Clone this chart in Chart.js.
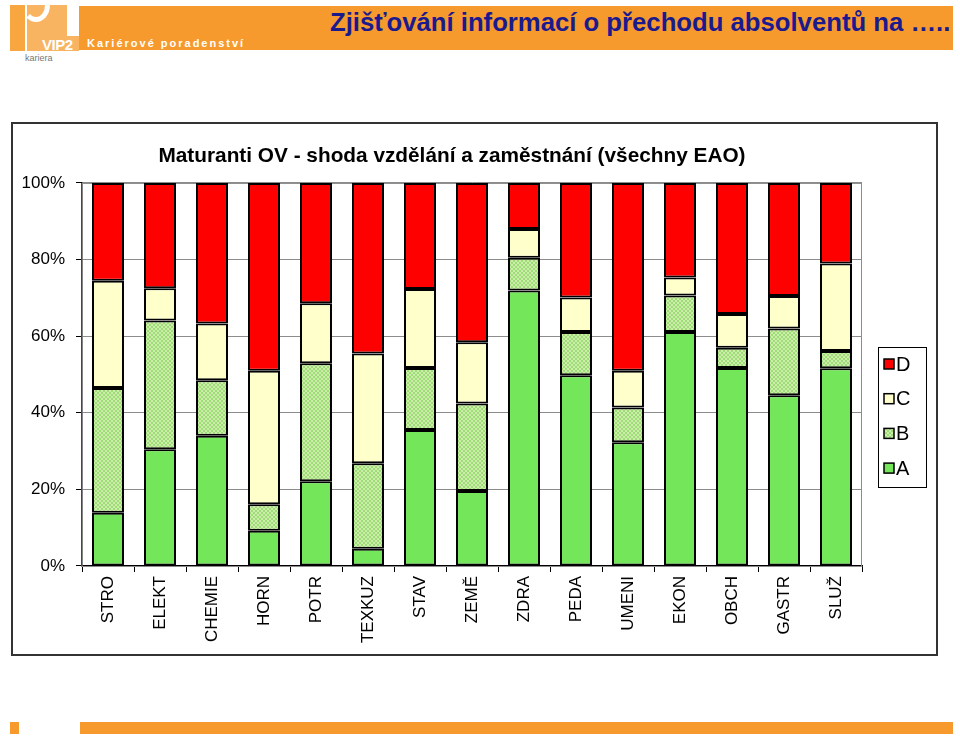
<!DOCTYPE html>
<html>
<head>
<meta charset="utf-8">
<script src="https://cdn.jsdelivr.net/npm/chart.js@4"></script>
<style>
  body { margin: 0; width: 960px; height: 739px; background: #fff; position: relative; overflow: hidden; font-family: "Liberation Sans", Arial, sans-serif; }
  .abs { position: absolute; }
  #logoStrip { left: 10px; top: 5px; width: 15px; height: 46px; background: #f7a640; }
  #logoBlock { left: 27px; top: 5px; width: 40px; height: 46px; background: #f9b462; }
  #logoBlock2 { left: 67px; top: 36px; width: 12px; height: 15px; background: #f9b462; }
  #logoArc { left: 22px; top: -12px; width: 18px; height: 24px; border: 5px solid #fff; border-radius: 50%; border-left-color: transparent; border-top-color: transparent; }
  #vip { left: 42px; top: 36px; color: #fff; font-weight: bold; font-size: 15px; letter-spacing: -0.5px; }
  #kariera { left: 25px; top: 53px; color: #777; font-size: 9px; }
  #headBar { left: 79px; top: 6px; width: 874px; height: 44px; background: #f79a2e; }
  #kp { left: 87px; top: 37px; color: #fff; font-size: 11px; font-weight: bold; letter-spacing: 2px; }
  #mainTitle { left: 330px; top: 8px; color: #1a1a8e; font-weight: bold; font-size: 25.7px; white-space: nowrap; }
  #chartBox { left: 11px; top: 122px; width: 923px; height: 530px; border: 2px solid #333; }
  #footSq { left: 10px; top: 722px; width: 9px; height: 12px; background: #f79a2e; }
  #footBar { left: 80px; top: 722px; width: 873px; height: 12px; background: #f79a2e; }
</style>
</head>
<body>
<div id="logoStrip" class="abs"></div>
<div id="logoBlock" class="abs"></div>
<div id="logoBlock2" class="abs"></div>
<div id="logoArc" class="abs"></div>
<div id="headBar" class="abs"></div>
<div id="vip" class="abs">VIP2</div>
<div id="kariera" class="abs">kariera</div>
<div id="kp" class="abs">Kariérové poradenství</div>
<div id="mainTitle" class="abs">Zjišťování informací o přechodu absolventů na …..</div>
<div id="chartBox" class="abs"><canvas id="chart" width="923" height="530"></canvas></div>
<div id="footSq" class="abs"></div>
<div id="footBar" class="abs"></div>

<script>
// data (percent shares of each stack)
const categories = ["STRO", "ELEKT", "CHEMIE", "HORN", "POTR", "TEXKUZ", "STAV", "ZEMĚ", "ZDRA", "PEDA", "UMENI", "EKON", "OBCH", "GASTR", "SLUŽ"]
const seriesA = [13.9, 30.5, 34.0, 9.2, 22.1, 4.5, 35.5, 19.6, 71.9, 49.8, 32.3, 61.1, 51.7, 44.6, 51.6]
const seriesB = [32.6, 33.6, 14.5, 6.9, 30.8, 22.3, 16.2, 22.8, 8.6, 11.3, 9.1, 9.5, 5.3, 17.4, 4.5]
const seriesC = [28.0, 8.4, 14.8, 34.9, 15.7, 28.7, 20.6, 16.0, 7.5, 9.0, 9.6, 4.7, 8.8, 8.5, 22.9]
const seriesD = [25.5, 27.5, 36.7, 49.0, 31.4, 44.5, 27.7, 41.6, 12.0, 29.9, 49.0, 24.7, 34.2, 29.5, 21.0]
const yTicks = [0, 20, 40, 60, 80, 100]

// checkered fill for B
const pc = document.createElement("canvas")
pc.width = 4
pc.height = 4
const pctx = pc.getContext("2d")
pctx.fillStyle = "#cdeeab"
pctx.fillRect(0, 0, 4, 4)
pctx.fillStyle = "#9edc78"
pctx.fillRect(0, 0, 2, 2)
pctx.fillRect(2, 2, 2, 2)
const hatch = pctx.createPattern(pc, "repeat")

const FONT = "'Liberation Sans', Arial, sans-serif"

// grey frame round plot area
const plotFrame = {
    id: "plotFrame",
    beforeDatasetsDraw(chart) {
        const a = chart.chartArea
        const ctx = chart.ctx
        ctx.save()
        ctx.strokeStyle = "#8c8c8c"
        ctx.lineWidth = 1
        ctx.strokeRect(a.left, a.top + 0.5, a.right - a.left - 0.5, a.bottom - a.top)
        ctx.restore()
    }
}

// boxed legend on the right, top item = last dataset
const boxLegend = {
    id: "boxLegend",
    afterDraw(chart) {
        const ctx = chart.ctx
        const x = 865, y = 223, w = 48, h = 140
        ctx.save()
        ctx.strokeStyle = "#000"
        ctx.lineWidth = 1
        ctx.strokeRect(x + 0.5, y + 0.5, w, h)
        const ds = chart.data.datasets.slice().reverse()
        ds.forEach((d, i) => {
            const cy = y + 17 + i * 34.7
            ctx.fillStyle = d.backgroundColor
            ctx.fillRect(x + 6, cy - 5, 10, 10)
            ctx.strokeStyle = "#000"
            ctx.lineWidth = 1.5
            ctx.strokeRect(x + 6, cy - 5, 10, 10)
            ctx.fillStyle = "#000"
            ctx.font = "20px " + FONT
            ctx.textBaseline = "middle"
            ctx.fillText(d.label, x + 18, cy + 1)
        })
        ctx.restore()
    }
}

new Chart(document.getElementById("chart"), {
    type: "bar",
    data: {
        labels: categories,
        datasets: [
            { label: "A", data: seriesA, backgroundColor: "#74e65a" },
            { label: "B", data: seriesB, backgroundColor: hatch },
            { label: "C", data: seriesC, backgroundColor: "#ffffcc" },
            { label: "D", data: seriesD, backgroundColor: "#ff0000" },
        ],
    },
    options: {
        responsive: false,
        animation: false,
        events: [],
        layout: { padding: { left: 0, right: 45, top: 0, bottom: 0 } },
        datasets: {
            bar: {
                borderColor: "#000",
                borderWidth: 2,
                borderSkipped: false,
                barPercentage: 0.615,
                categoryPercentage: 1,
            },
        },
        plugins: {
            legend: { display: false },
            tooltip: { enabled: false },
            title: {
                display: true,
                text: "Maturanti OV - shoda vzdělání a zaměstnání (všechny EAO)",
                color: "#000",
                font: { family: FONT, size: 20.8, weight: "bold" },
                padding: { top: 20, bottom: 14 },
            },
        },
        scales: {
            x: {
                stacked: true,
                grid: { drawOnChartArea: false, drawTicks: true, tickLength: 6, color: "#000", offset: true },
                border: { color: "#000", width: 1.5 },
                ticks: {
                    color: "#000",
                    font: { family: FONT, size: 17 },
                    minRotation: 90,
                    maxRotation: 90,
                    padding: 4,
                },
                afterFit(scale) { scale.height = 88 },
            },
            y: {
                stacked: true,
                min: 0,
                max: 100,
                afterBuildTicks(scale) { scale.ticks = yTicks.map(v => ({ value: v })) },
                grid: { color: "#8c8c8c", tickColor: "#000", tickLength: 6, lineWidth: 1 },
                border: { color: "#000", width: 1.5 },
                ticks: {
                    color: "#000",
                    font: { family: FONT, size: 17 },
                    padding: 11,
                    callback: v => v + "%",
                },
                afterFit(scale) { scale.width = 69 },
            },
            // empty strip on the right, holds room for the legend box
            yr: {
                position: "right",
                grid: { display: false },
                border: { display: false },
                ticks: { display: false },
                afterFit(scale) { scale.width = 29 },
            },
        },
    },
    plugins: [plotFrame, boxLegend],
})
</script>
</body>
</html>
